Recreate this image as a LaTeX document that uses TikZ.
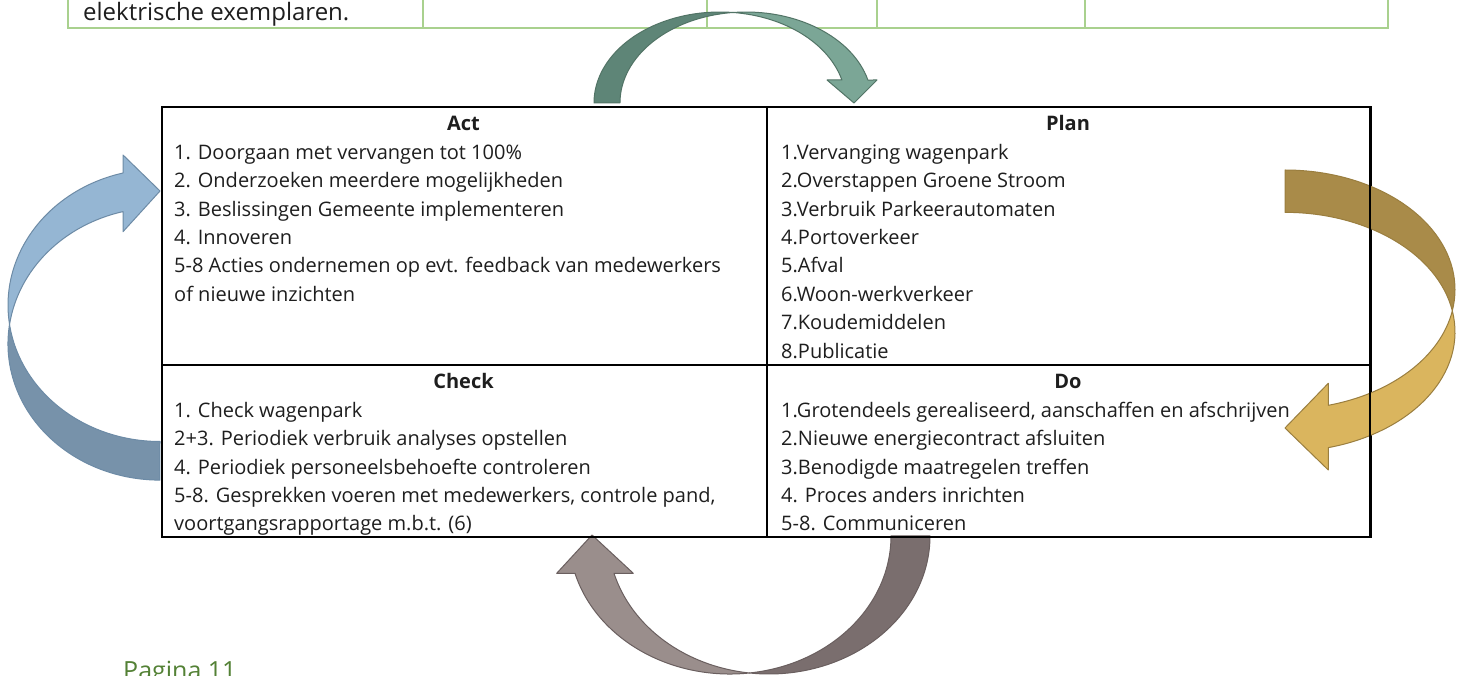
\documentclass[tikz,border=0pt]{standalone}
\usepackage{fontspec}
\setmainfont{Open Sans}
\definecolor{tealdark}{HTML}{5E8577}
\definecolor{teallight}{HTML}{7BA696}
\definecolor{tealline}{HTML}{527466}
\definecolor{bluelight}{HTML}{95B6D3}
\definecolor{bluedark}{HTML}{7792AA}
\definecolor{blueline}{HTML}{6D8BA6}
\definecolor{golddark}{HTML}{A98B49}
\definecolor{goldlight}{HTML}{DAB55E}
\definecolor{goldline}{HTML}{9A7E3F}
\definecolor{graylight}{HTML}{9A8E8C}
\definecolor{graydark}{HTML}{7A6E6E}
\definecolor{grayline}{HTML}{6A5F5F}
\definecolor{tablegreen}{HTML}{A9D18E}
\definecolor{pagegreen}{HTML}{538135}
\definecolor{txtcol}{HTML}{1E1E1E}
\newcommand{\cellfont}{\fontsize{20}{24}\selectfont}
\tikzset{
  txt/.style={anchor=base west, inner sep=0pt, font=\cellfont, text=txtcol},
  ttl/.style={anchor=base, inner sep=0pt, font=\cellfont\bfseries, text=txtcol},
  cellbox/.style={draw=black, line width=2pt, anchor=north west, inner sep=0pt},
  gridline/.style={draw=tablegreen, line width=2.5pt},
  band/.style={line width=1pt, line join=round}
}
\begin{document}
\begin{tikzpicture}[x=1pt,y=1pt]
\useasboundingbox (0,0) rectangle (1465,675);
\clip (0,0) rectangle (1465,675);
\fill[white] (0,0) rectangle (1465,675);

% top green table remnant
\draw[gridline] (68,675) -- (68,647) -- (1388,647) -- (1388,675);
\foreach \gx in {423,707,877,1085} \draw[gridline] (\gx,647) -- (\gx,675);
\node[anchor=base west, inner sep=0pt, font=\fontsize{24}{28}\selectfont, text=txtcol, name=elek] at (83,654.3) {elektrische exemplaren.};

% teal arrow (top)
\filldraw[band, fill=tealdark, draw=tealline] (594,572)
  arc[start angle=180, end angle=84.08, x radius=126pt, y radius=91pt]
  arc[start angle=95.92, end angle=180, x radius=126pt, y radius=91pt] -- cycle;
\filldraw[band, fill=teallight, draw=tealline] (733,662.5)
  arc[start angle=95.92, end angle=14.64, x radius=126pt, y radius=91pt]
  -- (877,595) -- (854,572) -- (827,595) -- (841.9,595)
  arc[start angle=14.64, end angle=84.08, x radius=126pt, y radius=91pt] -- cycle;

% blue arrow (left)
\filldraw[band, fill=bluedark, draw=blueline] (9.5,350.5)
  arc[start angle=171.86, end angle=270, x radius=152pt, y radius=136.3pt]
  -- (160,233.5)
  arc[start angle=270, end angle=188.14, x radius=152pt, y radius=136.3pt] -- cycle;
\filldraw[band, fill=bluelight, draw=blueline] (123,502)
  arc[start angle=104.1, end angle=188.14, x radius=152pt, y radius=136.3pt]
  arc[start angle=171.86, end angle=104.1, x radius=152pt, y radius=136.3pt]
  -- (123,443.3) -- (160,484) -- (123,520) -- cycle;

% gray arrow (bottom)
\filldraw[band, fill=graydark, draw=grayline] (930,139)
  arc[start angle=0, end angle=-96.96, x radius=161pt, y radius=138pt]
  arc[start angle=-83.04, end angle=0, x radius=161pt, y radius=138pt] -- cycle;
\filldraw[band, fill=graylight, draw=grayline] (749.5,2)
  arc[start angle=-83.04, end angle=-164.32, x radius=161pt, y radius=138pt]
  -- (556.7,101.7) -- (592,140) -- (633.3,101.7) -- (614,101.7)
  arc[start angle=195.68, end angle=263.04, x radius=161pt, y radius=138pt] -- cycle;

% table cells
\node[cellbox, minimum width=605pt, minimum height=258pt, name=act] at (161,569) {};
\node[cellbox, minimum width=604pt, minimum height=258pt, name=plan] at (766,569) {};
\node[cellbox, minimum width=605pt, minimum height=172pt, name=check] at (161,311) {};
\node[cellbox, minimum width=604pt, minimum height=172pt, name=do] at (766,311) {};

% gold arrow (right), in front of the table
\filldraw[band, fill=golddark, draw=goldline] (1285,505)
  arc[start angle=90, end angle=-10.2, x radius=170pt, y radius=119.6pt]
  arc[start angle=10.2, end angle=90, x radius=170pt, y radius=119.6pt] -- cycle;
\filldraw[band, fill=goldlight, draw=goldline] (1452.3,364.2)
  arc[start angle=10.2, end angle=-75.25, x radius=170pt, y radius=119.6pt]
  -- (1328.3,205) -- (1285,247) -- (1328.3,291.7) -- (1328.3,269.7)
  arc[start angle=-75.25, end angle=-10.2, x radius=170pt, y radius=119.6pt] -- cycle;
\draw[black, line width=2pt] (1370,569) -- (1370,139);

% titles
\node[ttl, name=acttitle] at (463.5,544) {Act};
\node[ttl, name=plantitle] at (1068,544) {Plan};
\node[ttl, name=checktitle] at (463.5,286) {Check};
\node[ttl, name=dotitle] at (1068,286) {Do};

% cell texts
\foreach \t [count=\i] in {{1. Doorgaan met vervangen tot 100\%},
  {2. Onderzoeken meerdere mogelijkheden},
  {3. Beslissingen Gemeente implementeren},
  {4. Innoveren},
  {5-8 Acties ondernemen op evt. feedback van medewerkers},
  {of nieuwe inzichten}}
  \node[txt, name=actl\i] at (174,544-28.4*\i) {\t};

\foreach \t [count=\i] in {{1.Vervanging wagenpark},
  {2.Overstappen Groene Stroom},
  {3.Verbruik Parkeerautomaten},
  {4.Portoverkeer},
  {5.Afval},
  {6.Woon-werkverkeer},
  {7.Koudemiddelen},
  {8.Publicatie}}
  \node[txt, name=planl\i] at (781,544-28.4*\i) {\t};

\foreach \t [count=\i] in {{1. Check wagenpark},
  {2+3. Periodiek verbruik analyses opstellen},
  {4. Periodiek personeelsbehoefte controleren},
  {5-8. Gesprekken voeren met medewerkers, controle pand,},
  {voortgangsrapportage m.b.t. (6)}}
  \node[txt, name=checkl\i] at (174,286-28.4*\i) {\t};

\foreach \t [count=\i] in {{1.Grotendeels gerealiseerd, aanschaffen en afschrijven},
  {2.Nieuwe energiecontract afsluiten},
  {3.Benodigde maatregelen treffen},
  {4. Proces anders inrichten},
  {5-8. Communiceren}}
  \node[txt, name=dol\i] at (781,286-28.4*\i) {\t};

% page footer
\node[anchor=base west, inner sep=0pt, font=\fontsize{25}{30}\selectfont, text=pagegreen, name=pagina] at (123,-4.5) {Pagina 11};
\end{tikzpicture}
\end{document}
